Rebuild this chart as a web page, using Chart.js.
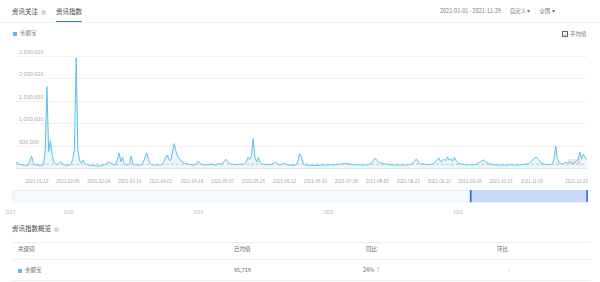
<!DOCTYPE html>
<html>
<head>
<meta charset="utf-8">
<script src="https://cdn.jsdelivr.net/npm/chart.js@4.4.1/dist/chart.umd.min.js"></script>
<style>
    body { margin: 0; width: 600px; height: 282px; background: #fff; position: relative; overflow: hidden;
           font-family: "Noto Sans CJK SC", "Noto Sans", sans-serif; color: #444; }
    .abs { position: absolute; white-space: nowrap; line-height: 1; }
    .q { display: inline-block; width: 5px; height: 5px; border-radius: 50%; background: #d8d8d8; vertical-align: middle; margin-left: 3px; }
    .sep { color: #ddd; }
    .line { position: absolute; height: 1px; background: #eee; }
    .sq { display: inline-block; width: 4px; height: 4px; background: #5bbde9; vertical-align: middle; margin-right: 3px; }
    .cell { font-size: 5.5px; color: #666; }
</style>
</head>
<body>
    <!-- tabs -->
    <div class="abs" style="left:12px;top:8px;font-size:6.5px;">资讯关注<span class="q"></span></div>
    <div class="abs" style="left:56px;top:8px;font-size:6.5px;">资讯指数</div>
    <div class="line" style="left:0;top:22px;width:600px;"></div>
    <div class="abs" style="left:56px;top:21px;width:26px;height:1px;background:#3a7be0;"></div>
    <div class="abs" style="left:440px;top:9px;font-size:5.5px;color:#777;">2021-01-01 - 2021-11-29 <span class="sep">&nbsp;&nbsp;|&nbsp;&nbsp;</span> 自定义 ▾ <span class="sep">&nbsp;&nbsp;|&nbsp;&nbsp;</span> 全国 ▾</div>

    <!-- legend -->
    <div class="abs" style="left:13px;top:31px;font-size:5.5px;color:#777;"><span class="sq"></span>余额宝</div>
    <div class="abs" style="left:562px;top:31px;font-size:5.5px;color:#777;"><span style="display:inline-block;width:4px;height:4px;border:0.8px solid #666;vertical-align:middle;margin-right:2px;font-size:4px;line-height:4px;text-align:center;color:#333;">✓</span>平均值</div>

    <canvas id="trendChart" width="600" height="142" style="position:absolute;left:0;top:44px;"></canvas>
    <canvas id="sliderChart" width="600" height="28" style="position:absolute;left:0;top:187px;"></canvas>

    <!-- overview table -->
    <div class="abs" style="left:12px;top:225px;font-size:6.5px;">资讯指数概览<span class="q"></span></div>
    <div class="line" style="left:12px;top:242px;width:578px;"></div>
    <div class="abs cell" style="left:18px;top:247px;">关键词</div>
    <div class="abs cell" style="left:234px;top:247px;">日均值</div>
    <div class="abs cell" style="left:366px;top:247px;">同比</div>
    <div class="abs cell" style="left:497px;top:247px;">环比</div>
    <div class="line" style="left:12px;top:259px;width:578px;"></div>
    <div class="abs cell" style="left:18px;top:268px;"><span class="sq"></span>余额宝</div>
    <div class="abs cell" id="avgCell" style="left:234px;top:268px;"></div>
    <div class="abs cell" style="left:363px;top:268px;">24% <span style="color:#f0803c;">↑</span></div>
    <div class="abs cell" style="left:508px;top:268px;">-</div>
    <div class="line" style="left:12px;top:280px;width:578px;"></div>

<script>
    // daily news index, 2021-01-01 .. 2021-11-29
    const jan = [150000, 120000, 95000, 88000, 80000, 76000, 70000, 82000, 150000, 280000,
        140000, 85000, 80000, 72000, 75000, 70000, 90000, 420000, 1820000, 380000,
        620000, 310000, 150000, 100000, 85000, 110000, 160000, 110000, 90000, 75000, 70000];
    const feb = [80000, 110000, 200000, 450000, 2460000, 420000, 180000, 120000, 190000, 110000,
        90000, 80000, 75000, 70000, 65000, 70000, 60000, 55000, 60000, 70000,
        80000, 100000, 130000, 150000, 130000, 100000, 80000, 90000];
    const mar = [200000, 350000, 150000, 250000, 110000, 80000, 75000, 100000, 280000, 110000,
        90000, 80000, 85000, 75000, 90000, 130000, 250000, 350000, 200000, 110000,
        85000, 80000, 75000, 80000, 85000, 80000, 90000, 150000, 240000, 300000, 200000];
    const apr = [180000, 350000, 555000, 400000, 280000, 220000, 170000, 140000, 120000, 110000,
        100000, 90000, 85000, 80000, 90000, 120000, 165000, 120000, 95000, 85000,
        80000, 90000, 85000, 100000, 95000, 85000, 80000, 90000, 110000, 100000];
    const may = [120000, 150000, 210000, 160000, 120000, 100000, 90000, 95000, 85000, 90000,
        100000, 95000, 90000, 110000, 160000, 250000, 200000, 300000, 665000, 250000,
        150000, 250000, 130000, 100000, 90000, 85000, 95000, 90000, 85000, 110000, 120000];
    const jun = [150000, 110000, 90000, 85000, 95000, 120000, 100000, 85000, 80000, 75000,
        70000, 80000, 90000, 150000, 330000, 270000, 120000, 90000, 80000, 75000,
        70000, 72000, 75000, 70000, 68000, 72000, 75000, 80000, 85000, 80000];
    const jul = [78000, 85000, 90000, 85000, 80000, 88000, 95000, 90000, 100000, 110000,
        120000, 105000, 115000, 100000, 90000, 85000, 80000, 90000, 95000, 85000,
        80000, 75000, 80000, 85000, 90000, 100000, 130000, 180000, 230000, 180000, 150000];
    const aug = [130000, 120000, 110000, 100000, 95000, 90000, 85000, 80000, 78000, 75000,
        80000, 85000, 80000, 78000, 75000, 80000, 85000, 90000, 100000, 130000,
        180000, 210000, 150000, 120000, 100000, 110000, 95000, 90000, 85000, 90000, 100000];
    const sep = [110000, 150000, 200000, 240000, 150000, 180000, 210000, 170000, 260000, 190000,
        220000, 160000, 250000, 180000, 130000, 110000, 100000, 95000, 90000, 85000,
        90000, 85000, 80000, 85000, 90000, 100000, 120000, 150000, 170000, 195000];
    const oct = [160000, 130000, 110000, 100000, 90000, 85000, 80000, 78000, 75000, 80000,
        85000, 80000, 75000, 80000, 85000, 90000, 80000, 75000, 78000, 80000,
        85000, 90000, 85000, 90000, 100000, 110000, 130000, 170000, 210000, 240000, 250000];
    const nov = [200000, 150000, 120000, 100000, 95000, 90000, 85000, 90000, 110000, 200000,
        505000, 220000, 130000, 110000, 100000, 120000, 140000, 120000, 150000, 130000,
        110000, 140000, 180000, 200000, 370000, 220000, 320000, 260000, 200000];

    const values = [].concat(jan, feb, mar, apr, may, jun, jul, aug, sep, oct, nov);
    const avgValue = 95719;
    const startDate = "2021-01-01";
    const xTickLabels = ["2021-01-19", "2021-02-06", "2021-02-24", "2021-03-14", "2021-04-01", "2021-04-19",
        "2021-05-07", "2021-05-25", "2021-06-12", "2021-06-30", "2021-07-18", "2021-08-05", "2021-08-23",
        "2021-09-10", "2021-09-28", "2021-10-16", "2021-11-03", "2021-11-29"];
    const yTicks = [0, 500000, 1000000, 1500000, 2000000, 2500000];

    // slider (years)
    const sliderMin = 2017.47;
    const sliderMax = 2021.91;
    const sliderSel = [2021.0, 2021.91];
    const sliderTicks = [2017.55, 2018, 2019, 2020, 2021];
    const sliderLabels = ["2017", "2018", "2019", "2020", "2021"];

    const lineColor = "#5cc0ea";

    // date categories
    const dates = [];
    const d0 = new Date(startDate + "T00:00:00Z");
    for (let i = 0; i < values.length; i++) {
        const d = new Date(d0.getTime() + i * 86400000);
        dates.push(d.toISOString().slice(0, 10));
    }

    document.getElementById("avgCell").textContent = avgValue.toLocaleString("en-US");

    // dashed average line with its label at the right end
    const avgLine = {
        id: "avgLine",
        afterDatasetsDraw(chart) {
            const ctx = chart.ctx;
            const y = chart.scales.y.getPixelForValue(avgValue);
            const { left, right } = chart.chartArea;
            ctx.save();
            ctx.setLineDash([3, 2]);
            ctx.strokeStyle = "#a9bccb";
            ctx.lineWidth = 0.8;
            ctx.beginPath();
            ctx.moveTo(left, y);
            ctx.lineTo(right, y);
            ctx.stroke();
            ctx.setLineDash([]);
            ctx.fillStyle = "rgba(214,150,160,0.75)";
            ctx.font = '4.5px "Noto Sans CJK SC"';
            ctx.textAlign = "right";
            ctx.textBaseline = "bottom";
            ctx.fillText("平均值", right - 6, y - 1);
            ctx.restore();
        }
    };

    new Chart(document.getElementById("trendChart").getContext("2d"), {
        type: "line",
        data: {
            labels: dates,
            datasets: [{
                label: "余额宝",
                data: values,
                borderColor: lineColor,
                backgroundColor: "rgba(92,192,234,0.12)",
                fill: true,
                borderWidth: 1,
                pointRadius: 0,
                tension: 0,
            }],
        },
        options: {
            responsive: false,
            animation: false,
            layout: { padding: { left: 10, right: 10, top: 12, bottom: 0 } },
            plugins: { legend: { display: false }, tooltip: { enabled: false } },
            scales: {
                x: {
                    grid: { display: false },
                    border: { color: "#e6e6e6" },
                    ticks: {
                        autoSkip: false,
                        maxRotation: 0,
                        padding: 2,
                        labelOffset: -10,
                        color: "#aaa",
                        font: { size: 4.5 },
                        callback: function (v, i) {
                            return xTickLabels.includes(dates[i]) ? dates[i] : null;
                        },
                    },
                },
                y: {
                    min: yTicks[0],
                    max: yTicks[yTicks.length - 1],
                    afterBuildTicks: function (axis) { axis.ticks = yTicks.map(v => ({ value: v })); },
                    grid: { color: "#f2f2f2", drawTicks: false },
                    border: { display: false },
                    ticks: {
                        mirror: true,
                        padding: 3,
                        labelOffset: -4,
                        color: "#aaa",
                        font: { size: 5.5 },
                        callback: v => (v === 0 ? "" : v.toLocaleString("en-US")),
                    },
                },
            },
        },
        plugins: [avgLine],
    });

    new Chart(document.getElementById("sliderChart").getContext("2d"), {
        type: "bar",
        data: {
            labels: ["range"],
            datasets: [{
                data: [sliderSel],
                backgroundColor: "#c7d9f6",
                borderColor: "#3e6fd2",
                borderWidth: { left: 2, right: 2, top: 0, bottom: 0 },
                borderSkipped: false,
                grouped: false,
                barPercentage: 1,
                categoryPercentage: 1,
            }, {
                data: [[sliderMin, sliderMax]],
                backgroundColor: "#f5f8fd",
                borderColor: "#e0e7f2",
                borderWidth: 1,
                borderSkipped: false,
                grouped: false,
                barPercentage: 1,
                categoryPercentage: 1,
            }],
        },
        options: {
            indexAxis: "y",
            responsive: false,
            animation: false,
            layout: { padding: { left: 12, right: 12, top: 3, bottom: 0 } },
            plugins: { legend: { display: false }, tooltip: { enabled: false } },
            scales: {
                x: {
                    type: "linear",
                    min: sliderMin,
                    max: sliderMax,
                    afterBuildTicks: function (axis) { axis.ticks = sliderTicks.map(v => ({ value: v })); },
                    grid: { display: false },
                    border: { display: false },
                    ticks: {
                        padding: 0,
                        labelOffset: -12,
                        color: "#bbb",
                        font: { size: 4.5 },
                        callback: (v, i) => sliderLabels[i],
                    },
                },
                y: { display: false },
            },
        },
    });
</script>
</body>
</html>
